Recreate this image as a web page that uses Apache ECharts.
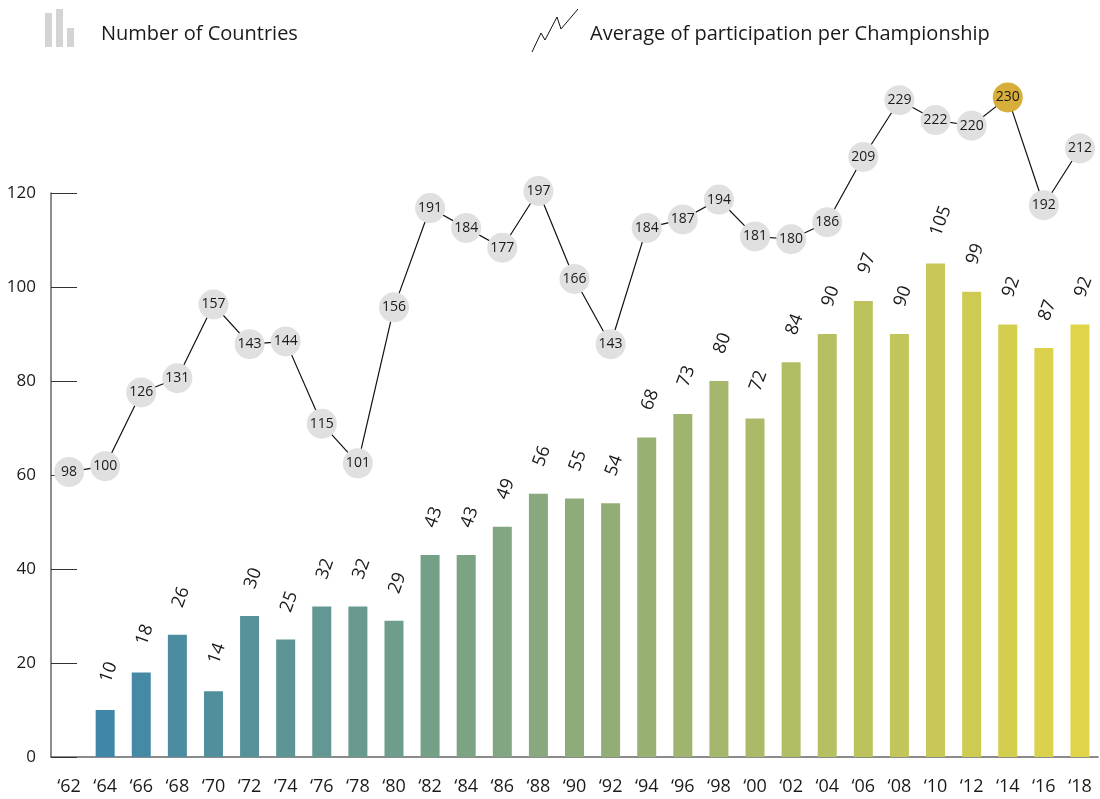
<!DOCTYPE html>
<html>
<head>
<meta charset="utf-8">
<script src="https://cdn.jsdelivr.net/npm/echarts@6/dist/echarts.min.js"></script>
<style>
  html, body { margin: 0; padding: 0; background: #fff; }
  #chart { width: 1100px; height: 799px; }
</style>
</head>
<body>
<div id="chart"></div>
<script>
// years of the championships
var years = ['‘62', '‘64', '‘66', '‘68', '‘70', '‘72', '‘74', '‘76', '‘78', '‘80', '‘82', '‘84', '‘86', '‘88', '‘90',
             '‘92', '‘94', '‘96', '‘98', '‘00', '‘02', '‘04', '‘06', '‘08', '‘10', '‘12', '‘14', '‘16', '‘18'];
// number of countries (no bar for '62)
var countries = ['-', 10, 18, 26, 14, 30, 25, 32, 32, 29, 43, 43, 49, 56, 55,
                 54, 68, 73, 80, 72, 84, 90, 97, 90, 105, 99, 92, 87, 92];
// average participation per championship
var participation = [98, 100, 126, 131, 157, 143, 144, 115, 101, 156, 191, 184, 177, 197, 166,
                     143, 184, 187, 194, 181, 180, 186, 209, 229, 222, 220, 230, 192, 212];
var highlightYear = '‘14';
var yTicks = [0, 20, 40, 60, 80, 100, 120];

var FONT = '"Open Sans", Lato, sans-serif';

// bar colours go from blue to yellow along the years
function mix(a, b, t) {
  var ca = [parseInt(a.substr(1, 2), 16), parseInt(a.substr(3, 2), 16), parseInt(a.substr(5, 2), 16)];
  var cb = [parseInt(b.substr(1, 2), 16), parseInt(b.substr(3, 2), 16), parseInt(b.substr(5, 2), 16)];
  var out = '#';
  for (var i = 0; i < 3; i++) {
    var v = Math.round(ca[i] + (cb[i] - ca[i]) * t).toString(16);
    out += v.length < 2 ? '0' + v : v;
  }
  return out;
}

var chart = echarts.init(document.getElementById('chart'));

var lineData = participation.map(function (v, i) {
  var item = { value: v };
  if (years[i] === highlightYear) item.itemStyle = { color: '#d8ae3a' };
  return item;
});

chart.setOption({
  animation: false,
  textStyle: { fontFamily: FONT },
  graphic: [
    // legend: bar icon
    { type: 'rect', shape: { x: 45, y: 13, width: 7, height: 34 }, style: { fill: '#d4d4d4' } },
    { type: 'rect', shape: { x: 56, y: 9, width: 7, height: 38 }, style: { fill: '#d4d4d4' } },
    { type: 'rect', shape: { x: 67, y: 28, width: 7, height: 19 }, style: { fill: '#d4d4d4' } },
    { type: 'text', left: 101, top: 24, style: { text: 'Number of Countries', fontSize: 20, fill: '#1a1a1a', fontFamily: FONT } },
    // legend: line icon
    { type: 'polyline', shape: { points: [[532, 52], [541, 33], [545, 40], [557, 17], [561, 29], [578, 9]] },
      style: { stroke: '#111', lineWidth: 1, fill: null } },
    { type: 'text', left: 590, top: 24, style: { text: 'Average of participation per Championship', fontSize: 20, fill: '#1a1a1a', fontFamily: FONT } }
  ],
  grid: { left: 51, right: 2, top: 193, bottom: 42 },
  xAxis: {
    type: 'category',
    data: years,
    axisLine: { lineStyle: { color: '#666', width: 1.5 } },
    axisTick: { show: false },
    axisLabel: { color: '#1a1a1a', fontSize: 18, margin: 21, fontFamily: FONT }
  },
  yAxis: [
    {
      type: 'value',
      min: yTicks[0],
      max: yTicks[yTicks.length - 1],
      interval: 20,
      axisLine: { show: true, lineStyle: { color: '#666', width: 1.5 } },
      axisTick: { show: true, inside: true, length: 26, lineStyle: { color: '#333', width: 1 } },
      splitLine: { show: false },
      axisLabel: { color: '#1a1a1a', fontSize: 17, margin: 15, fontFamily: FONT }
    },
    {
      type: 'value',
      min: -2.5,
      max: 196.3,
      show: false,
      splitLine: { show: false }
    }
  ],
  series: [
    {
      name: 'Number of Countries',
      type: 'bar',
      data: countries,
      barWidth: 19,
      itemStyle: {
        color: function (p) {
          return mix('#3f86a8', '#e0d448', (p.dataIndex - 1) / (years.length - 2));
        }
      },
      label: {
        show: true,
        position: 'top',
        rotate: 70,
        align: 'left',
        verticalAlign: 'middle',
        distance: 28,
        fontSize: 18,
        color: '#1a1a1a',
        fontFamily: FONT
      },
      z: 2
    },
    {
      name: 'Average of participation per Championship',
      type: 'line',
      yAxisIndex: 1,
      data: lineData,
      clip: false,
      symbol: 'circle',
      symbolSize: 30,
      itemStyle: { color: '#e0e0e0' },
      lineStyle: { color: '#111', width: 1.2 },
      label: {
        show: true,
        position: 'inside',
        fontSize: 14,
        color: '#1a1a1a',
        fontFamily: FONT
      },
      z: 5
    }
  ]
});
</script>
</body>
</html>
